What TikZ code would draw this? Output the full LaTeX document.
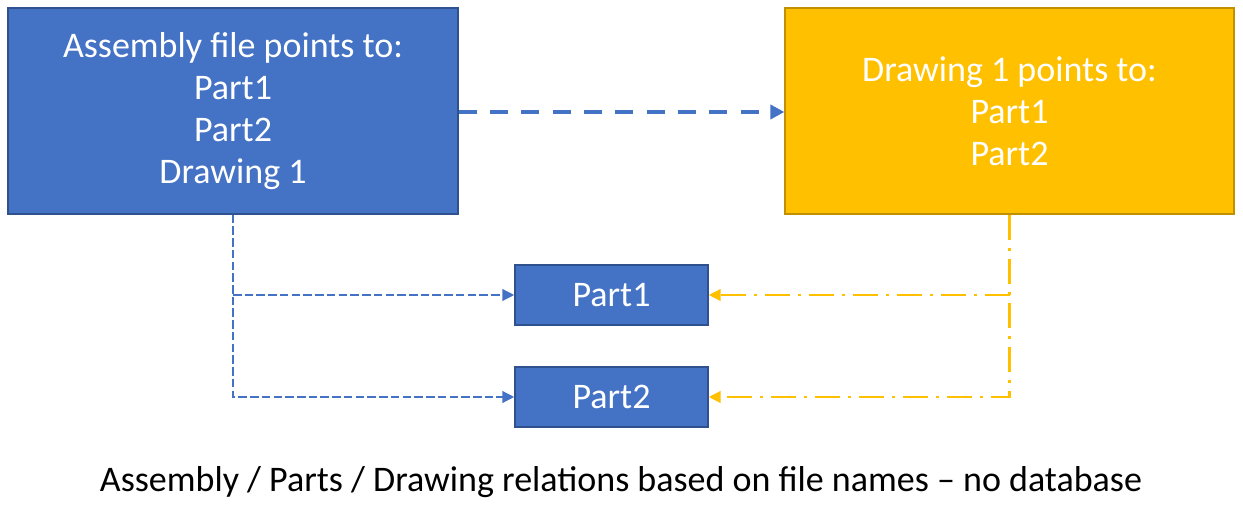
\documentclass[tikz,border=0pt]{standalone}
\usepackage{fontspec}
\setmainfont{Carlito}
\usetikzlibrary{arrows.meta}
\definecolor{bfill}{HTML}{4472C4}
\definecolor{bdraw}{HTML}{2F528F}
\definecolor{yfill}{HTML}{FFC000}
\definecolor{ydraw}{HTML}{BF9000}
\tikzset{
  bluebox/.style={draw=bdraw, fill=bfill, line width=0.9pt, text=white, align=center, inner sep=0pt},
  yellowbox/.style={draw=ydraw, fill=yfill, line width=0.9pt, text=white, align=center, inner sep=0pt},
  bigfont/.style={font=\fontsize{27}{31.5}\selectfont},
  thickdash/.style={draw=bfill, line width=3pt, dash pattern=on 13.5pt off 10pt, -{Triangle[length=10.5pt,width=10.5pt]}},
  thindash/.style={draw=bfill, line width=2pt, dash pattern=on 6.4pt off 2.4pt, -{Triangle[length=9pt,width=8.5pt]}},
  dashdotline/.style={draw=yfill, line width=2pt, dash pattern=on 18.75pt off 6pt on 2.25pt off 6pt, -{Triangle[length=9pt,width=8.5pt]}}
}
\begin{document}
\begin{tikzpicture}[x=0.75pt,y=-0.75pt]
\useasboundingbox (0,0) rectangle (1243,505);
\node[bluebox, bigfont, minimum width=337.5pt, minimum height=154.5pt] (asm) at (233,111)
  {Assembly file points to:\\Part1\\Part2\\Drawing 1};
\node[yellowbox, bigfont, minimum width=336.75pt, minimum height=154.5pt] (drw) at (1009.5,111)
  {Drawing 1 points to:\\Part1\\Part2};
\node[bluebox, bigfont, minimum width=144.75pt, minimum height=45pt] (p1) at (611.5,295) {Part1};
\node[bluebox, bigfont, minimum width=144.75pt, minimum height=45pt] (p2) at (611.5,397) {Part2};
\node[bigfont, anchor=base] (cap) at (621,492)
  {Assembly / Parts / Drawing relations based on file names – no database};
\draw[thickdash] (asm.east |- 0,112) -- (drw.west |- 0,112);
\draw[thindash] (asm.south) |- (p2.west);
\draw[thindash] (asm.south |- p1.west) -- (p1.west);
\draw[dashdotline] (drw.south) |- (p2.east);
\draw[dashdotline] (drw.south |- p1.east) -- (p1.east);
\end{tikzpicture}
\end{document}
